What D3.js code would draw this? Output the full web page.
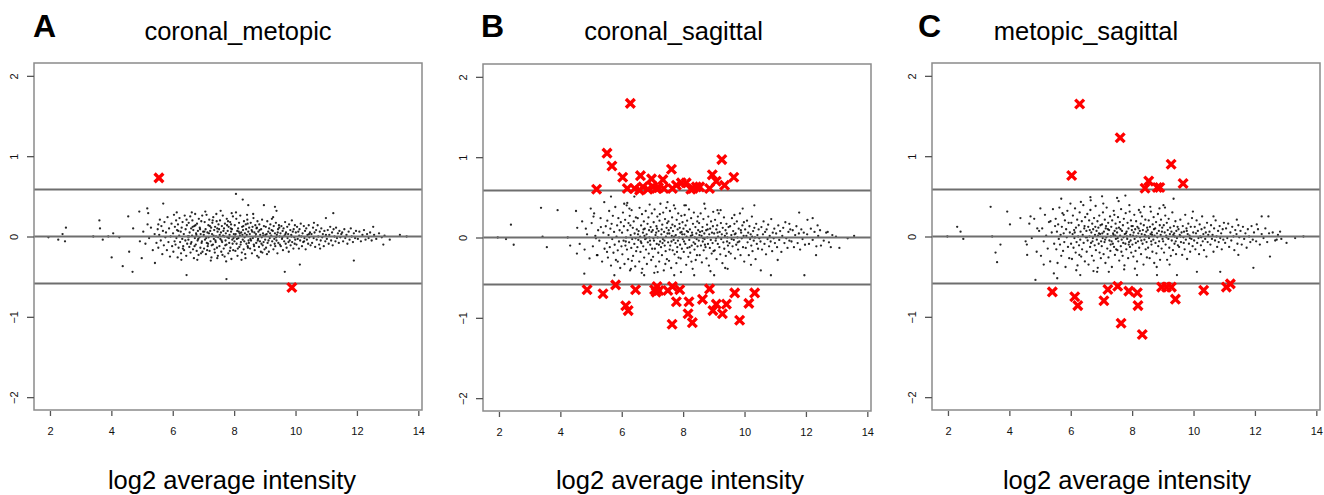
<!DOCTYPE html>
<html>
<head>
<meta charset="utf-8">
<script src="https://cdn.jsdelivr.net/npm/d3@7"></script>
<style>
html,body{margin:0;padding:0;background:#fff;}
text{font-family:"Liberation Sans",Arial,sans-serif;}
</style>
</head>
<body>
<svg id="chart" width="1324" height="495"></svg>
<script>
// ---------- data ----------
const panelLetters = ['A','B','C'];
const panelTitles = ['coronal_metopic','coronal_sagittal','metopic_sagittal'];
const xLabel = 'log2 average intensity';
const xTicks = [2,4,6,8,10,12,14];
const yTicks = [-2,-1,0,1,2];
const foldLines = [-0.585, 0, 0.585];

// significant genes (red crosses), [x, M]
const redA = [[5.55,0.73],[9.88,-0.635]];
const redB = [
 [6.28,1.67],[5.52,1.05],[5.68,0.89],[5.18,0.60],[6.03,0.75],[6.61,0.77],[6.97,0.73],[7.34,0.72],[7.62,0.85],
 [6.18,0.61],[6.42,0.61],[6.58,0.59],[6.69,0.63],[6.85,0.60],[7.02,0.63],[7.13,0.61],[7.37,0.61],[7.65,0.61],
 [7.78,0.65],[7.94,0.68],[8.10,0.68],[8.32,0.61],[8.43,0.63],[8.54,0.63],[8.86,0.61],[8.95,0.78],[9.08,0.70],
 [9.26,0.97],[9.35,0.65],[9.65,0.75],[7.20,0.62],[8.25,0.60],
 [4.87,-0.65],[5.39,-0.70],[5.80,-0.59],[6.13,-0.85],[6.21,-0.91],[6.45,-0.65],[7.07,-0.65],[7.15,-0.61],
 [7.21,-0.66],[7.12,-0.68],[7.50,-0.66],[7.65,-0.61],[7.89,-0.65],[7.78,-0.80],[8.19,-0.80],[8.16,-0.95],
 [8.30,-1.06],[7.64,-1.08],[8.63,-0.77],[8.86,-0.64],[9.08,-0.83],[8.97,-0.91],[9.28,-0.95],[9.41,-0.83],
 [9.68,-0.69],[9.84,-1.03],[10.14,-0.82],[10.33,-0.69]
];
const redC = [
 [6.29,1.65],[7.61,1.23],[6.03,0.76],[9.27,0.90],[8.54,0.69],[8.42,0.60],[8.82,0.61],[8.90,0.61],[9.66,0.66],
 [5.40,-0.69],[6.13,-0.75],[6.23,-0.86],[7.08,-0.80],[7.21,-0.66],[7.53,-0.62],[7.64,-1.08],[7.89,-0.68],
 [8.17,-0.70],[8.19,-0.86],[8.33,-1.22],[8.96,-0.63],[9.12,-0.63],[9.28,-0.63],[9.41,-0.78],[10.33,-0.67],
 [11.07,-0.63],[11.20,-0.59]
];

// background genes, flat list of x,M pairs (sparse outskirts)
const sparseA = [1.95,-0.01,2.27,-0.04,2.41,0.03,2.49,-0.06,2.52,0.11,3.41,0,3.61,0.2,3.63,0.1,3.72,-0.04,3.9,0,4.01,-0.26,4.06,0.04,4.26,-0.01,4.37,-0.37,4.55,0.25,4.58,-0.19,4.69,-0.44,4.71,0.1,4.91,0.31,4.93,-0.06,4.99,-0.27,5.17,0.35,5.2,0.29,5.42,-0.33,5.53,0.15,5.69,0.41,6.45,-0.48,7.75,-0.53,8.06,0.53,8.28,0.46,8.46,0.39,8.97,0.39,9.33,0.37,9.38,0.32,9.65,-0.44,10.14,-0.35,10.99,0.23,11.23,0.29,11.9,-0.3,12.53,0.12,12.86,-0.1,13.07,-0.04,13.4,0.02,13.62,0];
const sparseB = [1.96,0,2.23,-0.02,2.39,0.16,2.48,-0.09,3.37,0.37,3.42,0.01,3.56,-0.12,3.91,0.34,4.24,0,4.32,-0.1,4.51,0.33,4.54,-0.2,4.78,-0.45,4.83,0.11,4.99,0.36,5.08,0.26,5.16,-0.01,5.21,-0.22,5.32,0.13,5.43,0.44,5.52,-0.18,5.65,0.51,5.76,-0.47,5.87,-0.3,6.08,0.42,6.25,0.36,6.3,-0.39,6.41,0.51,6.73,-0.47,7.17,-0.43,7.49,0.44,7.71,-0.47,8.04,0.4,8.36,-0.47,8.69,0.42,9.01,-0.47,9.12,0.34,9.45,-0.39,9.67,0.28,9.94,0.36,10.21,-0.34,10.32,0.4,10.53,-0.41,10.86,-0.47,11.08,-0.28,11.46,0.17,11.78,0.31,11.95,-0.47,12.05,0.22,12.22,0.24,12.33,-0.22,12.38,0.15,12.49,-0.1,12.71,0.07,12.81,-0.12,12.98,0.01,13.09,-0.13,13.36,-0.01,13.57,0.02];
const sparseC = [1.98,0,2.3,0.12,2.41,0.06,2.5,-0.03,3.39,0.37,3.44,0,3.55,-0.2,3.6,-0.32,3.71,-0.1,3.93,0.31,4.02,0.15,4.36,0.23,4.53,-0.06,4.58,-0.23,4.69,0.25,4.85,-0.54,4.91,0.1,5.01,0.35,5.12,-0.35,5.34,0.19,5.45,-0.46,5.56,-0.52,5.69,0.47,5.77,0.27,6.31,-0.48,6.64,0.49,6.86,-0.44,7.02,0.5,7.51,0.48,7.78,0.51,8.16,-0.48,8.59,0.37,8.81,-0.48,9.02,0.39,9.35,0.47,9.46,-0.48,10.11,-0.44,10.65,0.25,10.87,-0.44,11.41,0.21,11.46,-0.23,11.95,-0.39,12.06,0.15,12.22,0.25,12.44,0.25,12.49,-0.25,12.71,-0.04,12.82,0.06,13.03,-0.08,13.31,-0.02,13.58,0];

// background genes, dense core, flat x,M pairs
const coreA = [5.04,0.06,5.11,-0.09,5.18,0.15,5.23,-0.02,5.29,0.11,5.35,-0.17,5.41,0.03,5.47,-0.08,
5.51,0.09,5.53,-0.14,5.56,0.02,5.58,0.21,5.61,-0.05,5.63,0.13,5.66,-0.22,5.68,0.07,5.71,-0.11,5.73,0.18,5.76,-0.01,5.78,0.05,5.81,-0.17,5.83,0.24,5.86,-0.07,5.88,0.1,5.91,-0.25,5.93,0,5.96,0.16,5.98,-0.12,
6.01,0.04,6.02,-0.19,6.04,0.27,6.06,-0.06,6.07,0.12,6.09,-0.1,6.11,0.2,6.12,-0.02,6.14,0.08,6.16,-0.26,6.17,0.15,6.19,-0.14,6.21,0.01,6.22,0.23,6.24,-0.07,6.26,0.06,6.27,-0.21,6.29,0.11,6.31,-0.03,6.32,0.18,6.34,-0.12,6.36,0.03,6.37,-0.17,6.39,0.26,6.41,-0.05,6.42,0.09,6.44,-0.24,6.46,0.14,6.47,-0.09,6.49,0,6.13,0.3,6.28,-0.29,6.45,0.21,6.33,-0.15,6.18,0.07,
6.51,-0.04,6.52,0.17,6.54,-0.13,6.55,0.05,6.57,0.25,6.58,-0.2,6.6,0.1,6.61,-0.07,6.63,0.01,6.64,0.2,6.66,-0.16,6.67,0.08,6.69,-0.27,6.7,0.13,6.72,-0.02,6.73,0.28,6.75,-0.1,6.76,0.04,6.78,-0.18,6.79,0.16,6.81,-0.05,6.82,0.07,6.84,-0.23,6.85,0.22,6.87,-0.01,6.88,0.11,6.9,-0.14,6.91,0.03,6.93,0.19,6.94,-0.08,6.96,0.26,6.97,-0.19,6.99,0.06,6.53,0,6.59,-0.09,6.65,0.12,6.71,-0.12,6.77,0.02,6.83,-0.03,6.89,0.09,6.95,-0.06,6.62,0.3,6.8,-0.29,6.74,0.14,6.92,-0.21,
7.01,0.02,7.02,-0.15,7.04,0.18,7.05,-0.04,7.07,0.09,7.08,-0.22,7.1,0.27,7.11,-0.08,7.13,0.05,7.14,-0.12,7.16,0.14,7.17,-0.01,7.19,0.21,7.2,-0.18,7.22,0.07,7.23,-0.06,7.25,0.11,7.26,-0.26,7.28,0.03,7.29,0.17,7.31,-0.1,7.32,0.24,7.34,-0.03,7.35,0.08,7.37,-0.2,7.38,0.12,7.4,-0.07,7.41,0,7.43,0.19,7.44,-0.14,7.46,0.06,7.47,-0.24,7.49,0.15,7.03,0.06,7.09,-0.02,7.15,-0.09,7.21,0.13,7.27,-0.11,7.33,0.01,7.39,-0.05,7.45,0.1,7.06,0.31,7.24,-0.3,7.42,0.28,7.12,-0.17,7.3,0.2,7.36,-0.16,7.48,-0.01,7.18,0.04,7.45,-0.27,
7.51,0.09,7.52,-0.12,7.54,0.2,7.55,-0.03,7.57,0.05,7.58,-0.19,7.6,0.13,7.61,-0.07,7.63,0.26,7.64,0.01,7.66,-0.15,7.67,0.1,7.69,-0.25,7.7,0.16,7.72,-0.05,7.73,0.04,7.75,-0.1,7.76,0.22,7.78,-0.01,7.79,0.07,7.81,-0.21,7.82,0.12,7.84,-0.08,7.85,0.02,7.87,0.18,7.88,-0.14,7.9,0.06,7.91,-0.28,7.93,0.09,7.94,-0.04,7.96,0.25,7.97,-0.17,7.99,0.03,7.53,0.02,7.59,-0.05,7.65,0.07,7.71,-0.11,7.77,0.14,7.83,-0.02,7.89,0.1,7.95,-0.09,7.56,0.32,7.74,-0.31,7.92,0.29,7.62,-0.23,7.8,0.19,7.86,-0.18,7.98,-0.02,7.68,0,7.9,0.15,
8.01,-0.06,8.02,0.14,8.04,-0.18,8.05,0.03,8.07,0.22,8.08,-0.09,8.1,0.07,8.11,-0.24,8.13,0.1,8.14,-0.02,8.16,0.17,8.17,-0.13,8.19,0.01,8.2,0.26,8.22,-0.07,8.23,0.05,8.25,-0.2,8.26,0.12,8.28,-0.04,8.29,0.08,8.31,-0.16,8.32,0.19,8.34,-0.01,8.35,0.04,8.37,-0.27,8.38,0.15,8.4,-0.09,8.41,0.02,8.43,0.21,8.44,-0.12,8.46,0.06,8.47,-0.05,8.49,0.11,8.03,0,8.09,-0.03,8.15,0.06,8.21,-0.1,8.27,0.02,8.33,-0.06,8.39,0.09,8.45,-0.14,8.06,0.3,8.24,-0.29,8.42,0.27,8.12,-0.15,8.3,0.13,8.36,-0.22,8.48,-0.08,8.18,0.04,8.44,0.16,
8.51,0.03,8.52,-0.15,8.54,0.17,8.55,-0.05,8.57,0.08,8.58,-0.21,8.6,0.12,8.61,-0.02,8.63,0.23,8.64,-0.1,8.66,0.05,8.67,-0.17,8.69,0.14,8.7,0,8.72,-0.08,8.73,0.1,8.75,-0.24,8.76,0.19,8.78,-0.03,8.79,0.06,8.81,-0.13,8.82,0.15,8.84,-0.06,8.85,0.02,8.87,-0.19,8.88,0.09,8.9,-0.01,8.91,0.21,8.93,-0.11,8.94,0.04,8.96,-0.07,8.97,0.13,8.99,-0.16,8.53,-0.03,8.59,0.06,8.65,-0.12,8.71,0.03,8.77,-0.05,8.83,0.08,8.89,-0.09,8.95,0.01,8.62,0.28,8.8,-0.26,8.74,0.11,8.92,-0.2,
9.01,-0.04,9.03,0.12,9.04,-0.14,9.06,0.03,9.08,0.19,9.09,-0.08,9.11,0.06,9.13,-0.19,9.14,0.1,9.16,-0.02,9.18,0.15,9.19,-0.11,9.21,0.01,9.23,0.22,9.24,-0.06,9.26,0.07,9.28,-0.16,9.29,0.13,9.31,-0.03,9.33,0.04,9.34,-0.12,9.36,0.17,9.38,-0.05,9.39,0.02,9.41,-0.21,9.43,0.09,9.44,-0.08,9.46,0.14,9.48,0,9.49,-0.1,9.02,0.02,9.12,-0.05,9.22,0.08,9.32,-0.09,9.42,0.05,9.07,-0.22,9.27,0.24,9.37,-0.01,9.17,0.04,9.47,0.11,
9.51,0.04,9.52,-0.12,9.54,0.13,9.56,-0.03,9.58,0.07,9.59,-0.17,9.61,0.1,9.63,-0.06,9.64,0.01,9.66,0.18,9.68,-0.09,9.69,0.05,9.71,-0.14,9.73,0.12,9.74,-0.02,9.76,0.03,9.78,-0.19,9.79,0.15,9.81,-0.05,9.83,0.08,9.84,-0.11,9.86,0.02,9.88,0.2,9.89,-0.07,9.91,0.06,9.93,-0.15,9.94,0.09,9.96,-0.01,9.98,0.14,9.99,-0.04,9.57,-0.01,9.67,0.03,9.77,-0.07,9.87,0,9.97,-0.09,
10.01,0.05,10.03,-0.1,10.05,0.12,10.07,-0.03,10.09,0.06,10.11,-0.15,10.13,0.09,10.15,-0.05,10.17,0.16,10.19,0,10.21,-0.12,10.23,0.04,10.25,-0.07,10.27,0.13,10.29,-0.02,10.31,0.07,10.33,-0.16,10.35,0.1,10.37,-0.04,10.39,0.02,10.41,-0.09,10.43,0.14,10.45,-0.01,10.47,0.05,10.49,-0.11,10.12,0.01,10.28,-0.06,10.44,0.03,
10.52,0.03,10.54,-0.08,10.57,0.11,10.59,-0.02,10.62,0.05,10.64,-0.13,10.67,0.08,10.69,-0.04,10.72,0.14,10.74,0,10.77,-0.1,10.79,0.06,10.82,-0.05,10.84,0.1,10.87,-0.01,10.89,0.03,10.92,-0.12,10.94,0.07,10.97,-0.06,10.99,0.02,10.6,0.17,10.8,-0.15,
11.02,-0.03,11.05,0.08,11.08,-0.09,11.1,0.02,11.13,0.12,11.16,-0.05,11.19,0.05,11.21,-0.11,11.24,0.09,11.27,0,11.3,-0.06,11.32,0.11,11.35,-0.02,11.38,0.04,11.41,-0.08,11.43,0.07,11.46,-0.01,11.49,0.03,
11.52,0.05,11.55,-0.06,11.59,0.09,11.62,-0.02,11.66,0.02,11.69,-0.09,11.73,0.06,11.76,-0.04,11.8,0.1,11.83,0,11.87,-0.07,11.9,0.04,11.94,-0.02,11.97,0.07,
12.03,-0.03,12.08,0.06,12.13,-0.06,12.18,0.02,12.23,0.08,12.28,-0.04,12.33,0.03,12.38,-0.02,12.43,0.05,12.48,-0.05,
12.56,0.02,12.63,-0.03,12.72,0.04,12.81,-0.01,12.9,0.01];

const coreB = [4.55,0.12,4.63,-0.08,4.71,0.2,4.79,-0.15,4.87,0.04,4.95,-0.26,
5.02,0.18,5.06,-0.11,5.1,0.3,5.14,0.02,5.19,-0.22,5.23,0.09,5.27,-0.04,5.31,0.24,5.36,-0.3,5.4,0.06,5.44,-0.14,5.48,0.14,
5.51,-0.07,5.53,0.21,5.55,-0.25,5.57,0.03,5.59,0.33,5.61,-0.12,5.63,0.11,5.65,-0.35,5.67,0.17,5.69,-0.02,5.71,0.27,5.73,-0.19,5.75,0.07,5.77,-0.09,5.79,0.38,5.81,-0.28,5.83,0.01,5.85,0.15,5.87,-0.16,5.89,0.24,5.91,-0.05,5.93,0.09,5.95,-0.38,5.97,0.19,5.99,-0.11,
6.01,0.06,6.02,-0.21,6.04,0.31,6.06,-0.04,6.07,0.14,6.09,-0.33,6.11,0.22,6.12,-0.1,6.14,0,6.16,0.4,6.17,-0.15,6.19,0.09,6.21,-0.27,6.22,0.18,6.24,-0.06,6.26,0.27,6.27,-0.41,6.29,0.03,6.31,-0.13,6.32,0.34,6.34,-0.02,6.36,0.12,6.37,-0.23,6.39,0.2,6.41,-0.08,6.42,0.05,6.44,-0.36,6.46,0.25,6.47,-0.17,6.49,0.1,6.13,-0.05,6.28,0.15,6.45,-0.01,6.33,-0.29,6.18,0.43,
6.51,-0.12,6.52,0.24,6.54,-0.03,6.55,0.08,6.57,-0.3,6.58,0.37,6.6,0.01,6.61,-0.18,6.63,0.15,6.64,-0.07,6.66,0.29,6.67,-0.39,6.69,0.06,6.7,-0.11,6.72,0.2,6.73,-0.25,6.75,0.11,6.76,-0.02,6.78,0.33,6.79,-0.15,6.81,0.04,6.82,-0.33,6.84,0.17,6.85,-0.06,6.87,0.25,6.88,-0.2,6.9,0,6.91,0.41,6.93,-0.09,6.94,0.13,6.96,-0.28,6.97,0.07,6.99,-0.14,6.53,0.04,6.62,-0.05,6.71,0.1,6.8,-0.01,6.89,0.09,6.98,0.3,6.65,-0.44,6.74,0.02,6.92,-0.04,
7.01,0.09,7.02,-0.24,7.04,0.19,7.05,-0.04,7.07,0.35,7.08,-0.14,7.1,0.03,7.11,-0.36,7.13,0.14,7.14,-0.08,7.16,0.26,7.17,0,7.19,-0.19,7.2,0.08,7.22,-0.3,7.23,0.21,7.25,-0.05,7.26,0.42,7.28,-0.12,7.29,0.04,7.31,-0.22,7.32,0.16,7.34,-0.02,7.35,0.31,7.37,-0.41,7.38,0.07,7.4,-0.1,7.41,0.23,7.43,-0.17,7.44,0.01,7.46,0.12,7.47,-0.27,7.49,0.05,7.03,-0.01,7.12,0.06,7.21,-0.09,7.3,0.1,7.39,-0.04,7.48,0.18,7.06,-0.44,7.24,0.29,7.42,-0.33,7.15,0.11,7.33,-0.07,7.45,0.37,
7.51,-0.06,7.52,0.2,7.54,-0.29,7.55,0.05,7.57,0.33,7.58,-0.1,7.6,0.12,7.61,-0.38,7.63,0.02,7.64,0.25,7.66,-0.16,7.67,0.08,7.69,-0.03,7.7,0.4,7.72,-0.21,7.73,0.14,7.75,-0.07,7.76,0.03,7.78,-0.32,7.79,0.22,7.81,-0.12,7.82,0.1,7.84,0.3,7.85,-0.25,7.87,0,7.88,0.17,7.9,-0.09,7.91,0.06,7.93,-0.43,7.94,0.27,7.96,-0.14,7.97,0.04,7.99,-0.02,7.53,0.09,7.62,-0.05,7.71,0.01,7.8,-0.18,7.89,0.12,7.98,0.19,7.56,-0.15,7.74,0.36,7.92,-0.26,7.65,0.16,7.83,-0.04,7.95,0.07,
8.01,0.11,8.02,-0.18,8.04,0.04,8.05,0.28,8.07,-0.08,8.08,0.15,8.1,-0.34,8.11,0.01,8.13,0.21,8.14,-0.13,8.16,0.07,8.17,-0.24,8.19,0.35,8.2,-0.03,8.22,0.1,8.23,-0.19,8.25,0.02,8.26,0.24,8.28,-0.1,8.29,0.06,8.31,-0.39,8.32,0.17,8.34,-0.06,8.35,0.31,8.37,-0.15,8.38,0,8.4,0.13,8.41,-0.28,8.43,0.05,8.44,-0.02,8.46,0.2,8.47,-0.11,8.49,0.09,8.03,-0.05,8.12,0.08,8.21,-0.12,8.3,0.03,8.39,-0.08,8.48,0.26,8.09,0.4,8.27,-0.3,8.45,-0.22,
8.51,-0.04,8.52,0.18,8.54,-0.22,8.55,0.07,8.57,0.3,8.58,-0.1,8.6,0.02,8.61,-0.31,8.63,0.13,8.64,-0.05,8.66,0.23,8.67,-0.16,8.69,0.05,8.7,-0.02,8.72,0.36,8.73,-0.12,8.75,0.09,8.76,-0.26,8.78,0.16,8.79,0,8.81,-0.08,8.82,0.26,8.84,-0.35,8.85,0.04,8.87,-0.13,8.88,0.11,8.9,-0.03,8.91,0.2,8.93,-0.2,8.94,0.06,8.96,-0.07,8.97,0.14,8.99,-0.17,8.53,0.03,8.62,0.08,8.71,-0.09,8.8,0.1,8.89,-0.42,8.98,0.32,8.65,-0.01,
9.01,0.05,9.03,-0.16,9.04,0.22,9.06,-0.04,9.08,0.1,9.09,-0.27,9.11,0.15,9.13,-0.08,9.14,0.01,9.16,0.3,9.18,-0.12,9.19,0.07,9.21,-0.21,9.23,0.18,9.24,-0.02,9.26,0.04,9.28,-0.32,9.29,0.12,9.31,-0.06,9.33,0.25,9.34,-0.14,9.36,0.02,9.38,0.09,9.39,-0.23,9.41,0.17,9.43,-0.05,9.44,0,9.46,-0.1,9.48,0.13,9.49,-0.18,9.07,-0.01,9.22,0.34,9.37,-0.38,9.12,0.06,9.42,0.05,
9.51,-0.07,9.53,0.14,9.55,-0.2,9.57,0.03,9.59,0.24,9.61,-0.11,9.63,0.08,9.65,-0.03,9.67,0.17,9.69,-0.26,9.71,0.05,9.73,-0.09,9.75,0.2,9.77,0,9.79,-0.15,9.81,0.11,9.83,-0.05,9.85,0.3,9.87,-0.22,9.89,0.06,9.91,-0.01,9.93,0.15,9.95,-0.12,9.97,0.02,9.99,-0.3,9.58,-0.02,9.68,0.04,9.78,-0.06,9.88,0.09,9.98,0.19,
10.02,0.1,10.04,-0.13,10.06,0.02,10.08,0.21,10.1,-0.06,10.12,0.06,10.14,-0.22,10.16,0.14,10.18,-0.02,10.2,0.04,10.22,-0.1,10.24,0.26,10.26,-0.17,10.28,0.08,10.3,-0.04,10.32,0.12,10.34,0,10.36,-0.27,10.38,0.17,10.4,-0.08,10.42,0.03,10.44,-0.14,10.46,0.1,10.48,-0.01,10.25,0.01,
10.52,-0.05,10.55,0.13,10.57,-0.15,10.6,0.04,10.62,0.2,10.65,-0.08,10.67,0.07,10.7,-0.21,10.72,0.1,10.75,-0.02,10.77,0.16,10.8,-0.11,10.82,0.02,10.85,-0.05,10.87,0.23,10.9,-0.17,10.92,0.06,10.95,-0.01,10.97,0.11,10.99,-0.07,
11.03,0.05,11.06,-0.12,11.1,0.15,11.13,-0.03,11.16,0.08,11.2,-0.18,11.23,0.02,11.26,0.12,11.3,-0.07,11.33,0.19,11.36,-0.01,11.4,-0.13,11.43,0.07,11.46,-0.04,11.49,0.1,
11.53,-0.05,11.57,0.09,11.61,-0.12,11.65,0.03,11.69,0.14,11.73,-0.07,11.77,0.05,11.81,-0.15,11.85,0.1,11.89,-0.02,11.93,0.06,11.97,-0.09,
12.04,0.04,12.1,-0.08,12.16,0.11,12.22,-0.03,12.28,0.07,12.34,-0.11,12.4,0.02,12.46,0.09,
12.58,-0.04,12.66,0.06,12.75,-0.06,12.86,0.03];

const coreC = [4.57,-0.1,4.65,0.16,4.73,-0.02,4.81,0.22,4.89,-0.19,4.97,0.07,
5.03,-0.24,5.07,0.1,5.12,-0.06,5.16,0.27,5.2,0.01,5.25,-0.15,5.29,0.18,5.33,-0.31,5.38,0.05,5.42,0.34,5.46,-0.09,5.49,0.13,
5.51,0.22,5.53,-0.16,5.55,0.06,5.57,-0.33,5.59,0.15,5.61,-0.03,5.63,0.36,5.65,-0.1,5.67,0.02,5.69,-0.24,5.71,0.12,5.73,0.29,5.75,-0.18,5.77,0.04,5.79,-0.07,5.81,0.2,5.83,-0.38,5.85,0.09,5.87,-0.01,5.89,0.32,5.91,-0.13,5.93,0.17,5.95,-0.27,5.97,0.05,5.99,0.41,
6.01,-0.09,6.02,0.17,6.04,-0.28,6.06,0.03,6.07,0.26,6.09,-0.14,6.11,0.08,6.12,-0.02,6.14,0.35,6.16,-0.2,6.17,0.11,6.19,-0.07,6.21,0.21,6.22,-0.36,6.24,0,6.26,0.14,6.27,-0.11,6.29,0.3,6.31,-0.04,6.32,0.06,6.34,-0.25,6.36,0.19,6.37,-0.16,6.39,0.02,6.41,0.39,6.42,-0.08,6.44,0.1,6.46,-0.31,6.47,0.24,6.49,-0.01,6.13,0.05,6.28,-0.23,6.45,0.13,6.33,0.43,6.18,-0.42,
6.51,0.07,6.52,-0.19,6.54,0.28,6.55,-0.05,6.57,0.12,6.58,-0.35,6.6,0.2,6.61,0,6.63,-0.13,6.64,0.33,6.66,-0.08,6.67,0.05,6.69,-0.24,6.7,0.16,6.72,-0.02,6.73,0.09,6.75,-0.3,6.76,0.23,6.78,-0.11,6.79,0.02,6.81,0.38,6.82,-0.17,6.84,0.07,6.85,-0.04,6.87,0.19,6.88,-0.39,6.9,0.11,6.91,-0.09,6.93,0.26,6.94,-0.2,6.96,0.03,6.97,0.14,6.99,-0.06,6.53,-0.01,6.62,0.08,6.71,-0.06,6.8,0.12,6.89,0.01,6.98,-0.27,6.65,0.45,6.74,-0.43,6.92,0.04,
7.01,-0.12,7.02,0.15,7.04,-0.02,7.05,0.3,7.07,-0.22,7.08,0.06,7.1,-0.07,7.11,0.21,7.13,-0.33,7.14,0.1,7.16,-0.01,7.17,0.36,7.19,-0.15,7.2,0.03,7.22,0.17,7.23,-0.26,7.25,0.08,7.26,-0.05,7.28,0.25,7.29,-0.18,7.31,0,7.32,0.12,7.34,-0.38,7.35,0.2,7.37,-0.09,7.38,0.04,7.4,0.32,7.41,-0.13,7.43,0.07,7.44,-0.23,7.46,0.16,7.47,-0.03,7.49,0.1,7.03,0.04,7.12,-0.04,7.21,0.09,7.3,-0.1,7.39,0.02,7.48,-0.16,7.06,0.41,7.24,-0.44,7.42,0.27,7.15,0.13,7.33,-0.06,7.45,0.01,
7.51,0.05,7.52,-0.17,7.54,0.24,7.55,-0.06,7.57,0.11,7.58,-0.3,7.6,0.18,7.61,0.01,7.63,-0.12,7.64,0.34,7.66,-0.04,7.67,0.07,7.69,-0.24,7.7,0.14,7.72,-0.01,7.73,0.22,7.75,-0.36,7.76,0.03,7.78,-0.09,7.79,0.29,7.81,-0.16,7.82,0.06,7.84,-0.03,7.85,0.17,7.87,-0.27,7.88,0.1,7.9,-0.07,7.91,0.39,7.93,-0.13,7.94,0.02,7.96,0.2,7.97,-0.2,7.99,0.08,7.53,-0.02,7.62,0.09,7.71,-0.08,7.8,0.04,7.89,-0.1,7.98,0.13,7.56,0.44,7.74,-0.41,7.92,0.31,7.65,-0.19,7.83,0,7.95,-0.05,
8.01,-0.1,8.02,0.13,8.04,-0.25,8.05,0.05,8.07,0.27,8.08,-0.03,8.1,0.09,8.11,-0.18,8.13,0.19,8.14,0,8.16,-0.31,8.17,0.12,8.19,-0.06,8.2,0.04,8.22,0.33,8.23,-0.14,8.25,0.07,8.26,-0.01,8.28,0.16,8.29,-0.22,8.31,0.03,8.32,0.25,8.34,-0.09,8.35,0.08,8.37,-0.35,8.38,0.14,8.4,-0.04,8.41,0.02,8.43,0.21,8.44,-0.16,8.46,0.06,8.47,-0.07,8.49,0.11,8.03,0.01,8.12,-0.08,8.21,0.1,8.3,-0.05,8.39,0.37,8.48,-0.26,8.09,-0.4,8.27,0.3,8.45,0,
8.51,0.08,8.52,-0.14,8.54,0.2,8.55,-0.02,8.57,-0.27,8.58,0.12,8.6,0.03,8.61,0.31,8.63,-0.1,8.64,0.05,8.66,-0.19,8.67,0.15,8.69,-0.04,8.7,0.24,8.72,-0.33,8.73,0.01,8.75,0.1,8.76,-0.08,8.78,0.18,8.79,-0.21,8.81,0.04,8.82,-0.01,8.84,0.28,8.85,-0.12,8.87,0.07,8.88,-0.06,8.9,0.14,8.91,-0.29,8.93,0.02,8.94,0.21,8.96,-0.15,8.97,0.06,8.99,-0.03,8.53,0,8.62,-0.06,8.71,0.09,8.8,-0.38,8.89,0.35,8.98,0.11,8.65,0.02,
9.01,-0.06,9.03,0.14,9.04,-0.2,9.06,0.05,9.08,0.26,9.09,-0.1,9.11,0.01,9.13,0.17,9.14,-0.29,9.16,0.08,9.18,-0.03,9.19,0.22,9.21,-0.14,9.23,0.03,9.24,0.11,9.26,-0.24,9.28,0.06,9.29,-0.05,9.31,0.3,9.33,-0.17,9.34,0.02,9.36,0.13,9.38,-0.09,9.39,0,9.41,0.19,9.43,-0.22,9.44,0.07,9.46,-0.02,9.48,0.12,9.49,-0.11,9.07,0.36,9.22,-0.35,9.37,0.04,9.12,-0.01,9.42,-0.06,
9.51,0.09,9.53,-0.13,9.55,0.02,9.57,0.21,9.59,-0.07,9.61,0.05,9.63,-0.23,9.65,0.13,9.67,-0.01,9.69,0.06,9.71,-0.16,9.73,0.27,9.75,-0.04,9.77,0.1,9.79,-0.28,9.81,0.03,9.83,0.16,9.85,-0.09,9.87,0.01,9.89,-0.19,9.91,0.12,9.93,-0.03,9.95,0.23,9.97,-0.12,9.99,0.05,9.58,0,9.68,-0.08,9.78,0.07,9.88,-0.02,9.98,0.31,
10.02,-0.05,10.04,0.12,10.06,-0.16,10.08,0.04,10.1,0.2,10.12,-0.08,10.14,0.07,10.16,-0.02,10.18,-0.22,10.2,0.15,10.22,0,10.24,-0.11,10.26,0.09,10.28,0.25,10.3,-0.06,10.32,0.03,10.34,-0.17,10.36,0.11,10.38,-0.03,10.4,0.05,10.42,-0.25,10.44,0.17,10.46,-0.07,10.48,0.02,10.25,-0.01,
10.52,0.06,10.55,-0.1,10.57,0.14,10.6,-0.03,10.62,0.02,10.65,-0.19,10.67,0.1,10.7,-0.05,10.72,0.2,10.75,0,10.77,-0.13,10.8,0.07,10.82,-0.07,10.85,0.13,10.87,-0.02,10.9,0.04,10.92,-0.16,10.95,0.09,10.97,-0.04,10.99,0.17,
11.03,-0.08,11.06,0.1,11.1,-0.02,11.13,0.16,11.16,-0.13,11.2,0.05,11.23,-0.05,11.26,0.12,11.3,0,11.33,-0.17,11.36,0.08,11.4,0.03,11.43,-0.09,11.46,0.14,11.49,-0.01,
11.53,0.07,11.57,-0.1,11.61,0.12,11.65,-0.03,11.69,0.04,11.73,-0.14,11.77,0.09,11.81,0,11.85,-0.07,11.89,0.13,11.93,-0.04,11.97,0.05,
12.04,-0.06,12.1,0.09,12.16,-0.1,12.22,0.03,12.28,-0.02,12.34,0.1,12.4,-0.07,12.46,0.04,
12.58,0.05,12.66,-0.05,12.75,0.02,12.86,-0.03];

// ---------- layout ----------
const boxW = 388;
const layout = [
  {left:34,  top:63, bottom:410, letterX:33,  titleX:238,  labelX:232},
  {left:483, top:64, bottom:411, letterX:481, titleX:673.5, labelX:680},
  {left:932, top:63, bottom:410, letterX:918, titleX:1086, labelX:1127}
];
const xDomain = [1.48, 14.12];
const yDomain = [-2.16, 2.16];

function pairs(flat){ const out=[]; for(let i=0;i<flat.length;i+=2) out.push([flat[i],flat[i+1]]); return out; }

const bgData = [sparseA.concat(coreA), sparseB.concat(coreB), sparseC.concat(coreC)].map(pairs);
const redData = [redA, redB, redC];

const svg = d3.select('#chart');
svg.append('rect').attr('width',1324).attr('height',495).attr('fill','#fff');

layout.forEach((L,i)=>{
  const x = d3.scaleLinear().domain(xDomain).range([L.left, L.left+boxW]);
  const y = d3.scaleLinear().domain(yDomain).range([L.bottom, L.top]);
  const g = svg.append('g');

  // panel letter & title
  g.append('text').attr('x',L.letterX).attr('y',37).attr('font-size',32).attr('font-weight','bold')
    .attr('fill','#000').text(panelLetters[i]);
  g.append('text').attr('x',L.titleX).attr('y',40).attr('font-size',25.5).attr('text-anchor','middle')
    .attr('fill','#000').text(panelTitles[i]);

  // background points
  g.append('g').selectAll('circle').data(bgData[i]).join('circle')
    .attr('cx',d=>x(d[0])).attr('cy',d=>y(d[1])).attr('r',1.15).attr('fill','#000').attr('fill-opacity',0.85);

  // fold lines
  g.append('g').selectAll('line').data(foldLines).join('line')
    .attr('x1',L.left).attr('x2',L.left+boxW).attr('y1',d=>y(d)).attr('y2',d=>y(d))
    .attr('stroke','#6e6e6e').attr('stroke-width',1.8);

  // box
  g.append('rect').attr('x',L.left).attr('y',L.top).attr('width',boxW).attr('height',L.bottom-L.top)
    .attr('fill','none').attr('stroke','#8a8a8a').attr('stroke-width',1.5);

  // axes
  const xAxis = d3.axisBottom(x).tickValues(xTicks).tickSize(5).tickSizeOuter(0).tickPadding(11);
  const ax = g.append('g').attr('transform',`translate(0,${L.bottom+1})`).call(xAxis);
  ax.select('.domain').remove();
  ax.selectAll('line').attr('stroke','#555').attr('stroke-width',1.3);
  ax.selectAll('text').attr('font-size',11).attr('fill','#111').attr('font-family','"Liberation Sans",Arial,sans-serif');

  const yAxis = d3.axisLeft(y).tickValues(yTicks).tickSize(7).tickSizeOuter(0).tickFormat(d3.format('d'));
  const ay = g.append('g').attr('transform',`translate(${L.left},0)`).call(yAxis);
  ay.select('.domain').remove();
  ay.selectAll('line').attr('stroke','#555').attr('stroke-width',1.3);
  ay.selectAll('text').attr('font-size',11).attr('fill','#111').attr('font-family','"Liberation Sans",Arial,sans-serif')
    .attr('text-anchor','middle').attr('dy',0).attr('x',null)
    .attr('transform','translate(-16,0) rotate(-90)');

  // red crosses
  const s = 4.4;
  g.append('g').selectAll('path').data(redData[i]).join('path')
    .attr('d',d=>{const cx=x(d[0]), cy=y(d[1]); return `M${cx-s},${cy-s}L${cx+s},${cy+s}M${cx-s},${cy+s}L${cx+s},${cy-s}`;})
    .attr('stroke','#ff0000').attr('stroke-width',3.3).attr('fill','none');

  // x label
  g.append('text').attr('x',L.labelX).attr('y',489).attr('font-size',25.5).attr('text-anchor','middle')
    .attr('fill','#000').text(xLabel);
});
</script>
</body>
</html>
